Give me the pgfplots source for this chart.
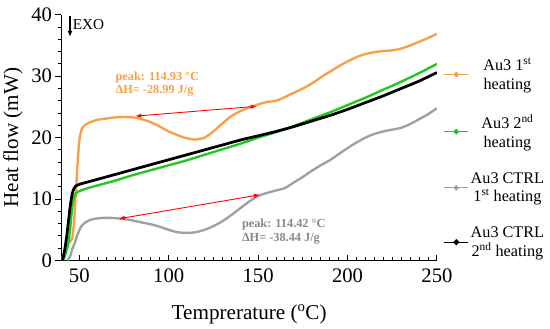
\documentclass[border=0pt]{standalone}
\usepackage{fontspec}
\setmainfont{Liberation Serif}
\usepackage{pgfplots}
\pgfplotsset{compat=1.18}
\usetikzlibrary{arrows.meta}
\definecolor{orng}{RGB}{248,160,72}
\definecolor{grn}{RGB}{30,200,30}
\definecolor{gry}{RGB}{160,160,160}
\begin{document}
\begin{tikzpicture}
\path (-53pt,-69pt) rectangle (497pt,265pt);
\begin{axis}[
  at={(0pt,0pt)}, anchor=south west,
  scale only axis, width=382pt, height=250pt,
  xmin=40, xmax=250, ymin=0, ymax=40,
  axis lines=left, axis line style={-, line width=1.2pt},
  xtick={50,100,...,250}, ytick={0,10,...,40},
  minor x tick num=9, minor y tick num=4,
  xtick align=inside, ytick align=outside,
  major tick length=6pt, minor tick length=3.5pt,
  tick style={line width=1pt, black},
  /pgf/number format/assume math mode=true,
  tick label style={font=\fontsize{21}{23}\selectfont},
  xticklabel shift=5pt,
  label style={font=\fontsize{21.5}{24}\selectfont},
  xlabel style={yshift=-15pt},
  ylabel style={yshift=2pt},
  xlabel={Temprerature (\textsuperscript{o}C)},
  ylabel={Heat flow (mW)},
  legend style={at={(1.01,0.84)}, anchor=north west, draw=none, fill=none,
    font=\fontsize{16.5}{19}\selectfont, row sep=20pt, cells={align=center}},
  legend image code/.code={\draw[#1, line width=1.3pt] (0pt,0pt) -- (24pt,0pt); \fill[#1] (12pt,0pt) circle (1.3pt);},
]
\addplot[orng, line width=2.4pt, smooth] coordinates {
(40,0)(41,0.8)(42,1.6)(43,2.4)(44.5,3.0)(46,3.6)(47,6)(48,10.5)(49,15.5)(50,19.5)(51,21)(52,21.7)(54,22.2)(57,22.6)(60,22.9)(65,23.1)(70,23.3)(75,23.35)(80,23.3)(85,23.0)(90,22.5)(95,21.8)(100,21.0)(105,20.4)(110,19.9)(115,19.7)(120,20.0)(125,21.0)(130,22.3)(135,23.5)(140,24.3)(145,24.9)(150,25.4)(155,25.8)(160,26.0)(165,26.6)(170,27.3)(175,28.0)(180,28.8)(185,29.8)(190,30.7)(195,31.6)(200,32.4)(205,33.1)(210,33.6)(215,33.9)(220,34.1)(225,34.2)(230,34.5)(235,35.0)(240,35.6)(245,36.2)(250,36.9)};
\addlegendentry{Au3 1\textsuperscript{st}\\heating}
\addplot[grn, line width=2.4pt, smooth] coordinates {
(41,0)(42,0.8)(43,1.8)(44,3)(45,5.5)(46,8.5)(47,10.3)(48,10.9)(50,11.3)(55,11.8)(60,12.2)(70,13.0)(80,13.9)(90,14.7)(100,15.5)(110,16.3)(120,17.2)(130,18.1)(140,19.0)(150,20.0)(160,20.9)(170,21.9)(180,23.0)(190,24.1)(200,25.3)(210,26.5)(220,27.8)(230,29.1)(240,30.5)(250,32.0)};
\addlegendentry{Au3 2\textsuperscript{nd}\\heating}
\addplot[gry, line width=2.4pt, smooth] coordinates {
(43.5,0)(45,0.8)(46,1.8)(47.5,2.9)(49,4.2)(51,5.5)(53,6.1)(56,6.6)(60,6.85)(65,6.95)(70,6.9)(75,6.75)(80,6.5)(85,6.2)(90,5.9)(95,5.5)(100,5.0)(105,4.6)(110,4.5)(115,4.6)(120,5.0)(125,5.6)(130,6.4)(135,7.4)(140,8.5)(145,9.6)(150,10.5)(155,11.0)(160,11.4)(165,11.8)(170,12.7)(175,13.6)(180,14.6)(185,15.5)(190,16.3)(195,17.3)(200,18.3)(205,19.2)(210,20.0)(215,20.6)(220,21.0)(225,21.3)(230,21.6)(235,22.2)(240,23.0)(245,23.8)(250,24.8)};
\addlegendentry{Au3 CTRL\\1\textsuperscript{st} heating}
\addplot[black, line width=2.8pt, smooth] coordinates {
(40.5,0)(41,0.5)(42,2)(43,4)(44,6.5)(45,9.0)(46,10.8)(47,11.7)(48,12.1)(50,12.4)(55,12.8)(60,13.2)(70,14.0)(80,14.8)(90,15.6)(100,16.4)(110,17.2)(120,18.0)(130,18.8)(140,19.6)(150,20.3)(160,21.0)(170,21.8)(180,22.7)(190,23.6)(200,24.6)(210,25.7)(220,26.8)(230,28.0)(240,29.2)(250,30.6)};
\addlegendentry{Au3 CTRL\\2\textsuperscript{nd} heating}
\draw[red, line width=0.9pt, {Latex[length=6pt,width=4.5pt]}-{Latex[length=6pt,width=4.5pt]}] (axis cs:81.4,23.5) -- (axis cs:149.2,25.1);
\draw[red, line width=0.9pt, {Latex[length=6pt,width=4.5pt]}-{Latex[length=6pt,width=4.5pt]}] (axis cs:72.2,6.8) -- (axis cs:151,10.7);
\node[anchor=west, inner sep=0pt, text=orng, font=\bfseries\fontsize{12.5}{13.5}\selectfont, align=left] at (axis cs:70.2,28.75) {peak: 114.93 °C\\ΔH= -28.99 J/g};
\node[anchor=west, inner sep=0pt, text=gry!85!black, font=\bfseries\fontsize{12.5}{13.5}\selectfont, align=left] at (axis cs:140.9,4.7) {peak: 114.42 °C\\ΔH= -38.44 J/g};
\draw[black, line width=1.2pt, -{Latex[length=6pt,width=5pt]}] (axis cs:44.8,39.8) -- (axis cs:44.8,36.4);
\node[anchor=west, inner sep=0pt, font=\fontsize{15.5}{17}\selectfont] at (axis cs:46.3,38.4) {EXO};
\end{axis}
\end{tikzpicture}
\end{document}
